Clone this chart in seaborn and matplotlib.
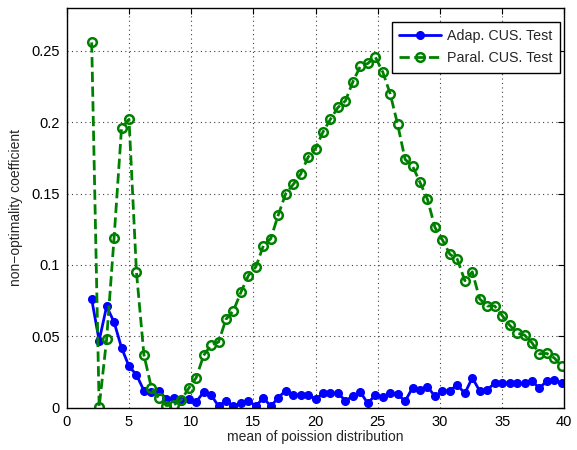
import numpy as np
import pandas as pd
import matplotlib
matplotlib.use('Agg')
import matplotlib.pyplot as plt
from matplotlib.ticker import FuncFormatter
import seaborn as sns

# poisson means: 2, 2.6, ..., 39.8
mean_vals = np.round(2 + 0.6 * np.arange(64), 1)

adap_cus = [0.076, 0.047, 0.071, 0.060, 0.042, 0.029, 0.023, 0.012, 0.011, 0.012,
            0.006, 0.007, 0.005, 0.006, 0.004, 0.011, 0.009, 0.001, 0.005, 0.001,
            0.003, 0.005, 0.001, 0.007, 0.001, 0.007, 0.012, 0.009, 0.009, 0.009,
            0.006, 0.010, 0.010, 0.010, 0.005, 0.008, 0.011, 0.003, 0.009, 0.0075,
            0.010, 0.0096, 0.0045, 0.014, 0.0124, 0.0147, 0.008, 0.0115, 0.012, 0.016,
            0.010, 0.021, 0.0117, 0.0127, 0.017, 0.0175, 0.017, 0.017, 0.017, 0.0185,
            0.0138, 0.0187, 0.0194, 0.017]

paral_cus = [0.256, 0.0005, 0.048, 0.119, 0.196, 0.202, 0.095, 0.037, 0.014, 0.0066,
             0.0015, 0.002, 0.0054, 0.0136, 0.021, 0.0366, 0.044, 0.046, 0.062, 0.068,
             0.081, 0.0926, 0.0987, 0.1134, 0.1185, 0.135, 0.150, 0.1564, 0.1637, 0.1756,
             0.1816, 0.1933, 0.2022, 0.2104, 0.215, 0.2283, 0.2393, 0.2412, 0.2458, 0.2353,
             0.220, 0.1985, 0.174, 0.1693, 0.1578, 0.146, 0.1263, 0.1176, 0.1075, 0.104,
             0.089, 0.0952, 0.0762, 0.0713, 0.0713, 0.0646, 0.0579, 0.0523, 0.0509, 0.0455,
             0.0378, 0.038, 0.0348, 0.029]

sns.set_style('white')
plt.rcParams['font.family'] = ['Liberation Sans', 'DejaVu Sans']

fig = plt.figure(figsize=(5.77, 4.5), dpi=100)
ax = fig.add_axes([0.1158, 0.094, 0.8622, 0.888])

sns.lineplot(x=mean_vals, y=adap_cus, ax=ax, color='#0000ff', linewidth=2,
             marker='o', markersize=5.5, markeredgecolor='#0000ff',
             markerfacecolor='#0000ff', markeredgewidth=1,
             label='Adap. CUS. Test')
sns.lineplot(x=mean_vals, y=paral_cus, ax=ax, color='#008000', linewidth=2,
             linestyle='--', marker='o', markersize=6.2, markeredgecolor='#008000',
             markerfacecolor='none', markeredgewidth=1.8,
             label='Paral. CUS. Test')

ax.set_xlim(0, 40)
ax.set_ylim(0, 0.28)
ax.set_xticks(np.arange(0, 41, 5))
ax.set_yticks([0, 0.05, 0.1, 0.15, 0.2, 0.25])
ax.yaxis.set_major_formatter(FuncFormatter(lambda v, p: '%g' % round(v, 2)))
ax.grid(True, color='0.25', linestyle=(0, (1, 3)), linewidth=0.8)
ax.tick_params(direction='in', top=True, right=True, length=4, width=0.8,
               labelsize=10.5, colors='k', pad=5)
for sp in ax.spines.values():
    sp.set_color('k')
    sp.set_linewidth(1)

ax.set_xlabel('mean of poission distribution', fontsize=10, labelpad=1)
ax.set_ylabel('non\u2212optimality coefficient', fontsize=10, labelpad=6)

leg = ax.legend(loc='upper right', bbox_to_anchor=(0.991, 0.966), fontsize=10.3,
                frameon=True, fancybox=False, handlelength=2.9, borderpad=0.5,
                labelspacing=0.6, borderaxespad=0, handletextpad=0.45)
leg.get_frame().set_edgecolor('k')
leg.get_frame().set_linewidth(1)
leg.get_frame().set_alpha(1)

fig.savefig('out.png', dpi=100)
